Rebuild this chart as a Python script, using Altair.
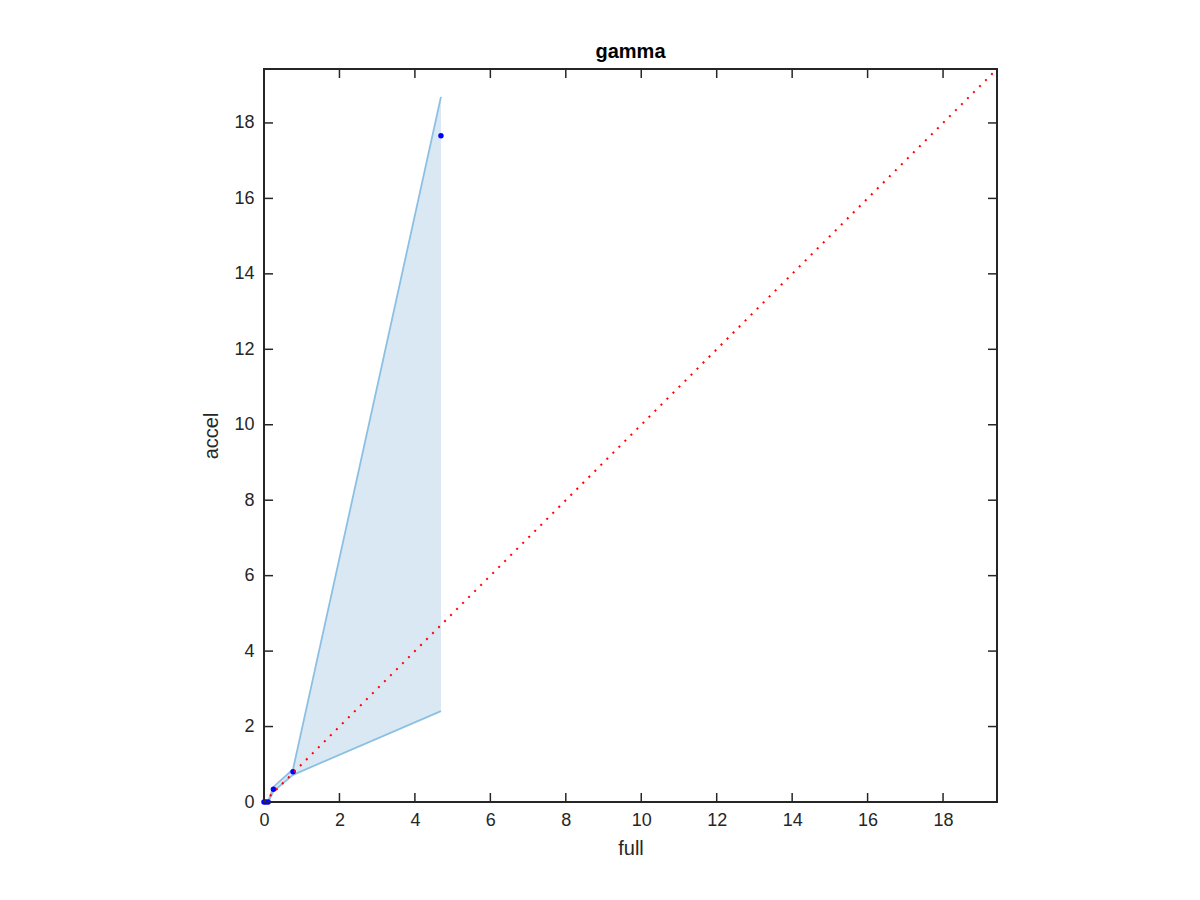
import altair as alt
import pandas as pd

# Data
band_x = [0.0, 0.11, 0.25, 0.77, 4.69]
band_lo = [0.0, 0.0, 0.28, 0.72, 2.41]
band_hi = [0.0, 0.02, 0.40, 0.87, 18.69]

pts_x = [0.0, 0.05, 0.11, 0.25, 0.77, 4.69]
pts_y = [0.0, 0.0, 0.0, 0.34, 0.80, 17.66]

diag = [0.0, 19.43]
tick_vals = [0, 2, 4, 6, 8, 10, 12, 14, 16, 18]

DMAX = 19.43
W = 733
H = 733
AX = "#262626"
FONT = "Liberation Sans"

band_df = pd.DataFrame({"x": band_x, "lo": band_lo, "hi": band_hi})
pts_df = pd.DataFrame({"x": pts_x, "y": pts_y})
diag_df = pd.DataFrame({"x": diag, "y": diag})
ticks_df = pd.DataFrame({"t": tick_vals})

xs = alt.Scale(domain=[0, DMAX], nice=False, zero=False)
ys = alt.Scale(domain=[0, DMAX], nice=False, zero=False)

x_axis = alt.Axis(values=tick_vals, ticks=False, grid=False, domain=False,
                  labelFontSize=18, labelColor=AX, labelFont=FONT, labelPadding=9,
                  title="full", titleFontSize=20, titleFont=FONT, titleColor=AX,
                  titleFontWeight="normal", titlePadding=9, labelFlush=False)
y_axis = alt.Axis(values=tick_vals, ticks=False, grid=False, domain=False,
                  labelFontSize=18, labelColor=AX, labelFont=FONT, labelPadding=10,
                  title="accel", titleFontSize=20, titleFont=FONT, titleColor=AX,
                  titleFontWeight="normal", titlePadding=12, labelFlush=False)

area = alt.Chart(band_df).mark_area(color="#dae8f4", opacity=1).encode(
    x=alt.X("x:Q", scale=xs, axis=x_axis),
    y=alt.Y("lo:Q", scale=ys, axis=y_axis),
    y2="hi:Q",
)
lo_line = alt.Chart(band_df).mark_line(color="#8cc0e3", strokeWidth=1.8).encode(
    x=alt.X("x:Q", scale=xs), y=alt.Y("lo:Q", scale=ys)
)
hi_line = alt.Chart(band_df).mark_line(color="#8cc0e3", strokeWidth=1.8).encode(
    x=alt.X("x:Q", scale=xs), y=alt.Y("hi:Q", scale=ys)
)
pts = alt.Chart(pts_df).mark_circle(color="#0000ff", size=30, opacity=1).encode(
    x=alt.X("x:Q", scale=xs), y=alt.Y("y:Q", scale=ys)
)
diag_line = alt.Chart(diag_df).mark_line(color="#ff0000", strokeWidth=2,
                                          strokeDash=[2, 6.5], clip=True).encode(
    x=alt.X("x:Q", scale=xs), y=alt.Y("y:Q", scale=ys)
)

TL = 9
tick_bottom = alt.Chart(ticks_df).mark_rule(color=AX, strokeWidth=1.5).encode(
    x=alt.X("t:Q", scale=xs), y=alt.value(H), y2=alt.value(H - TL)
)
tick_top = alt.Chart(ticks_df).mark_rule(color=AX, strokeWidth=1.5).encode(
    x=alt.X("t:Q", scale=xs), y=alt.value(0), y2=alt.value(TL)
)
tick_left = alt.Chart(ticks_df).mark_rule(color=AX, strokeWidth=1.5).encode(
    y=alt.Y("t:Q", scale=ys), x=alt.value(0), x2=alt.value(TL)
)
tick_right = alt.Chart(ticks_df).mark_rule(color=AX, strokeWidth=1.5).encode(
    y=alt.Y("t:Q", scale=ys), x=alt.value(W), x2=alt.value(W - TL)
)

chart = alt.layer(
    area, lo_line, hi_line, pts, diag_line,
    tick_bottom, tick_top, tick_left, tick_right,
).properties(
    width=W,
    height=H,
    title=alt.TitleParams("gamma", fontSize=20, fontWeight="bold", font=FONT,
                          color="#000000", offset=6, anchor="middle"),
    autosize=alt.AutoSizeParams(type="none"),
    padding={"left": 256, "top": 61, "right": 195, "bottom": 90},
).configure(
    background="white"
).configure_view(
    stroke=AX, strokeWidth=2
)

chart.save("out.html", embed_options={"renderer": "svg", "actions": False})
